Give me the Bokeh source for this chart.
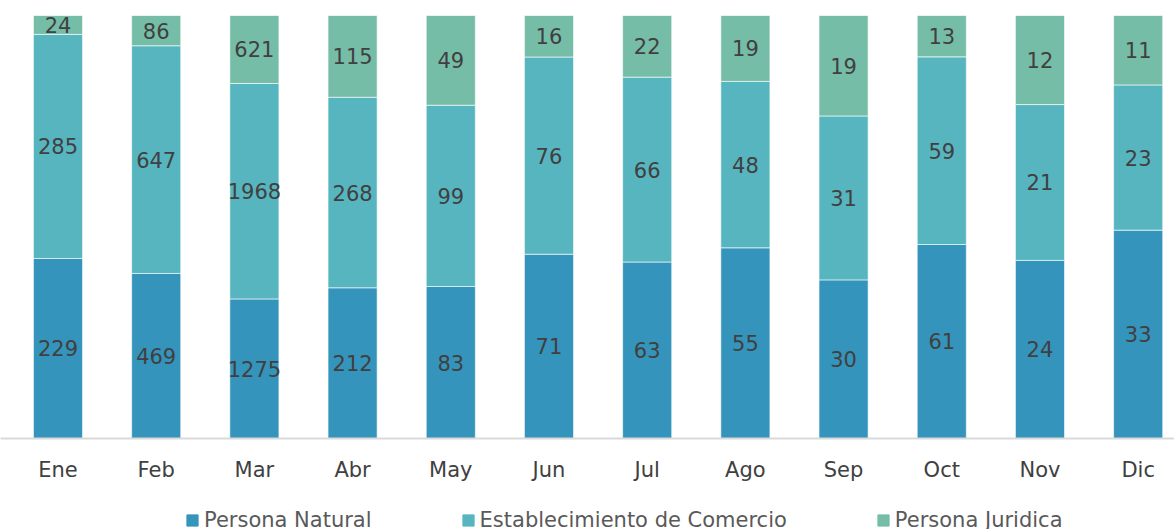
from bokeh.plotting import figure
from bokeh.layouts import column
from bokeh.models import ColumnDataSource, Range1d, LabelSet, Legend, LegendItem, FixedTicker
from bokeh.core.properties import value
from bokeh.embed import file_html
from bokeh.resources import INLINE

months = ["Ene", "Feb", "Mar", "Abr", "May", "Jun", "Jul", "Ago", "Sep", "Oct", "Nov", "Dic"]
natural = [229, 469, 1275, 212, 83, 71, 63, 55, 30, 61, 24, 33]
comercio = [285, 647, 1968, 268, 99, 76, 66, 48, 31, 59, 21, 23]
juridica = [24, 86, 621, 115, 49, 16, 22, 19, 19, 13, 12, 11]
series_names = ["Persona Natural", "Establecimiento de Comercio", "Persona Juridica"]
colors = ["#3594BB", "#57B5C0", "#76BDA8"]

FONT = "DejaVu Sans"
TXT = "#404040"

x = list(range(len(months)))
tot = [a + b + c for a, b, c in zip(natural, comercio, juridica)]
fn = [a / t for a, t in zip(natural, tot)]
fc = [b / t for b, t in zip(comercio, tot)]
fj = [c / t for c, t in zip(juridica, tot)]

src = ColumnDataSource(dict(x=x, natural=fn, comercio=fc, juridica=fj))

p = figure(width=1174, height=484, output_backend="svg", toolbar_location=None,
           x_range=Range1d(-0.5855, 11.370), y_range=Range1d(0, 1),
           min_border_left=0, min_border_right=0, min_border_top=15, min_border_bottom=46)
p.outline_line_color = None
p.grid.grid_line_color = None
p.yaxis.visible = False

rs = p.vbar_stack(["natural", "comercio", "juridica"], x="x", width=0.5, source=src,
                  color=colors, line_color="white", line_width=1, line_alpha=0.6)

# data labels, centred in each segment
lab_y = []
lab_t = []
lab_x = []
for i in range(len(months)):
    segs = [(natural[i], fn[i]), (comercio[i], fc[i]), (juridica[i], fj[i])]
    base = 0
    for v, f in segs:
        lab_x.append(i)
        lab_y.append(base + f / 2)
        lab_t.append(str(v))
        base += f
lsrc = ColumnDataSource(dict(x=lab_x, y=lab_y, t=lab_t))
p.add_layout(LabelSet(x="x", y="y", text="t", source=lsrc, text_align="center",
                      text_baseline="middle", text_font=value(FONT), text_font_size="21px",
                      text_color=TXT))

ax = p.xaxis[0]
ax.ticker = FixedTicker(ticks=x)
ax.major_label_overrides = {i: m for i, m in enumerate(months)}
ax.major_tick_line_color = None
ax.minor_tick_line_color = None
ax.axis_line_color = "#D9D9D9"
ax.axis_line_width = 2
ax.major_label_text_font = FONT
ax.major_label_text_font_size = "21px"
ax.major_label_text_color = TXT
ax.major_label_standoff = 13

# legend strip (proxy bars sit outside the visible range; only their legend swatches show)
q = figure(width=1174, height=45, output_backend="svg", toolbar_location=None,
           x_range=Range1d(0, 1), y_range=Range1d(0, 1),
           min_border_left=0, min_border_right=0, min_border_top=0, min_border_bottom=0)
q.axis.visible = False
q.grid.grid_line_color = None
q.outline_line_color = None
dummies = [q.vbar(x=[5], top=[5], width=0.1, color=c) for c in colors]

legend = Legend(items=[LegendItem(label=n, renderers=[r]) for n, r in zip(series_names, dummies)],
                orientation="horizontal", location=(185, -3), border_line_color=None,
                background_fill_alpha=0, label_text_font=FONT, label_text_font_size="21px",
                label_text_color="#595959", glyph_width=14, glyph_height=14,
                label_standoff=5, spacing=89, padding=0, margin=0, label_height=14)
q.add_layout(legend, "center")

layout = column(p, q, spacing=0)
open("out.html", "w").write(file_html(layout, INLINE))
